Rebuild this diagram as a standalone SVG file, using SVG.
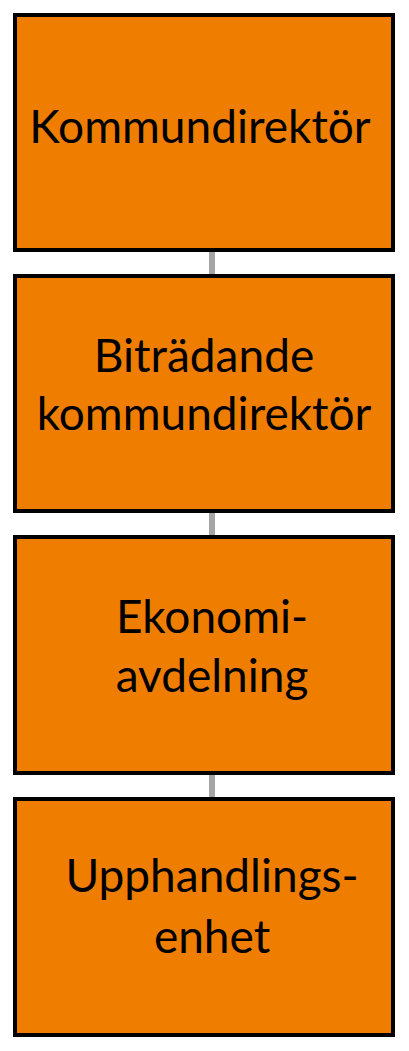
<svg xmlns="http://www.w3.org/2000/svg" width="409" height="1051" viewBox="0 0 409 1051">
<style>
.box{fill:#EE7D00;stroke:#000;stroke-width:4}
.lbl{font-family:Lato,"Open Sans",sans-serif;font-size:46px;fill:#000;text-anchor:middle}
.conn{stroke:#A5A5A5;stroke-width:6;fill:none}
</style>
<rect width="409" height="1051" fill="#fff"/>
<g id="connectors">
<line class="conn" x1="212" y1="250" x2="212" y2="276"/>
<line class="conn" x1="212" y1="511" x2="212" y2="537"/>
<line class="conn" x1="212" y1="773" x2="212" y2="799"/>
</g>
<g id="node1">
<rect class="box" x="15" y="15" width="378" height="235"/>
<text class="lbl" x="200" y="143">Kommundirektör</text>
</g>
<g id="node2">
<rect class="box" x="15" y="276" width="378" height="235"/>
<text class="lbl" x="204" y="372">Biträdande</text>
<text class="lbl" x="204" y="430">kommundirektör</text>
</g>
<g id="node3">
<rect class="box" x="15" y="537" width="378" height="236"/>
<text class="lbl" x="212" y="633">Ekonomi-</text>
<text class="lbl" x="212" y="692">avdelning</text>
</g>
<g id="node4">
<rect class="box" x="15" y="799" width="378" height="236"/>
<text class="lbl" x="212" y="892">Upphandlings-</text>
<text class="lbl" x="212" y="953">enhet</text>
</g>
</svg>
